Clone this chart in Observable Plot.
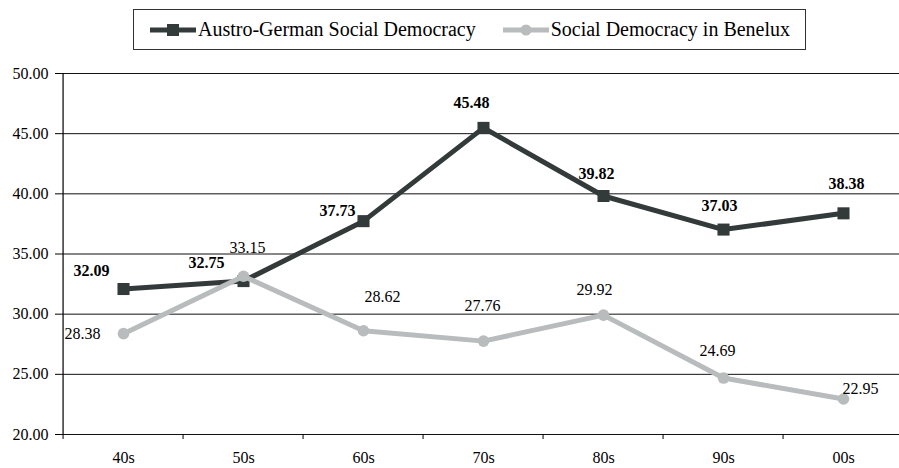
<!DOCTYPE html>
<html>
<head>
<meta charset="utf-8">
<script src="https://cdn.jsdelivr.net/npm/d3@7"></script>
<script src="https://cdn.jsdelivr.net/npm/@observablehq/plot@0.6"></script>
<style>
  body { margin: 0; background: #fff; }
  #wrap { width: 899px; height: 468px; position: relative; overflow: hidden; font-family: "Liberation Serif", "Times New Roman", Tinos, "DejaVu Serif", serif; }
  #legend { height: 60px; position: relative; }
  #legend .box { position: absolute; left: 133px; top: 9px; width: 673px; height: 41px; box-sizing: border-box;
    border: 1px solid #333; display: flex; align-items: center; padding-left: 16px; font-size: 20px; color: #000; white-space: nowrap; }
  #legend .item { display: flex; align-items: center; margin-right: 27px; }
  #legend svg { margin-right: 2px; }
  #chart svg, #chart svg g, #chart svg text { font-family: "Liberation Serif", "Times New Roman", Tinos, "DejaVu Serif", serif !important; }
</style>
</head>
<body>
<div id="wrap">
  <div id="legend"><div class="box"></div></div>
  <div id="chart"></div>
</div>
<script>
const categories = ["40s", "50s", "60s", "70s", "80s", "90s", "00s"];
const austroGerman = [32.09, 32.75, 37.73, 45.48, 39.82, 37.03, 38.38];
const benelux = [28.38, 33.15, 28.62, 27.76, 29.92, 24.69, 22.95];
const seriesNames = ["Austro-German Social Democracy", "Social Democracy in Benelux"];
const yTicks = [20, 25, 30, 35, 40, 45, 50];

// layout-only label nudges [dx, dy] in pixels
const darkNudge = [[-32, -18], [-37, -18], [-26, -10], [-12, -25], [-7, -22], [-4, -24], [3, -29]];
const grayNudge = [[-41, 0], [4, -28], [19, -34], [-1, -35], [-9, -25], [-6, -27], [17, -10]];

const darkColor = "#333a3a";
const grayColor = "#b8bcbc";
const serif = "Liberation Serif";

const dark = categories.map((c, i) => ({cat: c, v: austroGerman[i]}));
const gray = categories.map((c, i) => ({cat: c, v: benelux[i]}));

const W = 899, H = 408;
const x0 = 60, x1 = 906;
const bw = (x1 - x0) / categories.length;

// legend
const box = document.querySelector("#legend .box");
[[darkColor, "square"], [grayColor, "circle"]].forEach(([col, sym], k) => {
  const item = document.createElement("div");
  item.className = "item";
  const s = d3.create("svg").attr("width", 46).attr("height", 16);
  s.append("line").attr("x1", 0).attr("x2", 46).attr("y1", 8).attr("y2", 8)
    .attr("stroke", col).attr("stroke-width", 5).attr("stroke-linecap", "round");
  if (sym === "square") s.append("rect").attr("x", 17).attr("y", 2).attr("width", 12).attr("height", 12).attr("fill", col);
  else s.append("circle").attr("cx", 23).attr("cy", 8).attr("r", 5.5).attr("fill", col);
  item.appendChild(s.node());
  const t = document.createElement("span");
  t.textContent = seriesNames[k];
  item.appendChild(t);
  box.appendChild(item);
});

const labelMarks = [];
dark.forEach((d, i) => labelMarks.push(Plot.text([d], {
  x: "cat", y: "v", text: d => d.v.toFixed(2), dx: darkNudge[i][0], dy: darkNudge[i][1],
  fontWeight: "bold", fontSize: 16, fontFamily: serif, fill: "#000"
})));
gray.forEach((d, i) => labelMarks.push(Plot.text([d], {
  x: "cat", y: "v", text: d => d.v.toFixed(2), dx: grayNudge[i][0], dy: grayNudge[i][1],
  fontSize: 16, fontFamily: serif, fill: "#000"
})));

const chart = Plot.plot({
  width: W,
  height: H,
  marginTop: 13,
  marginBottom: 34,
  marginLeft: x0,
  marginRight: 0,
  style: {"font-family": serif, "font-size": "16px", color: "#000", background: "#fff"},
  x: {type: "band", domain: categories, range: [x0, x1], padding: 0},
  y: {domain: [20, 50]},
  marks: [
    Plot.ruleY(yTicks, {stroke: "#111", strokeWidth: 1}),
    Plot.ruleX([categories[0]], {dx: -bw / 2, stroke: "#000", strokeWidth: 1.2}),
    Plot.axisY({ticks: yTicks, tickFormat: d => d.toFixed(2), tickSize: 5, tickPadding: 7, fontSize: 16, fontFamily: serif, stroke: "#000", label: null}),
    Plot.axisX({ticks: categories, tickSize: 5, dx: -bw / 2, text: null, label: null, stroke: "#000"}),
    Plot.axisX({ticks: categories, tickSize: 0, tickPadding: 17, fontSize: 16, fontFamily: serif, label: null}),
    Plot.line(dark, {x: "cat", y: "v", stroke: darkColor, strokeWidth: 5}),
    Plot.dot(dark, {x: "cat", y: "v", symbol: "square", r: 6.8, fill: darkColor, stroke: "none"}),
    Plot.line(gray, {x: "cat", y: "v", stroke: grayColor, strokeWidth: 5}),
    Plot.dot(gray, {x: "cat", y: "v", symbol: "circle", r: 5.8, fill: grayColor, stroke: "none"}),
    ...labelMarks
  ]
});
document.getElementById("chart").appendChild(chart);
</script>
</body>
</html>
